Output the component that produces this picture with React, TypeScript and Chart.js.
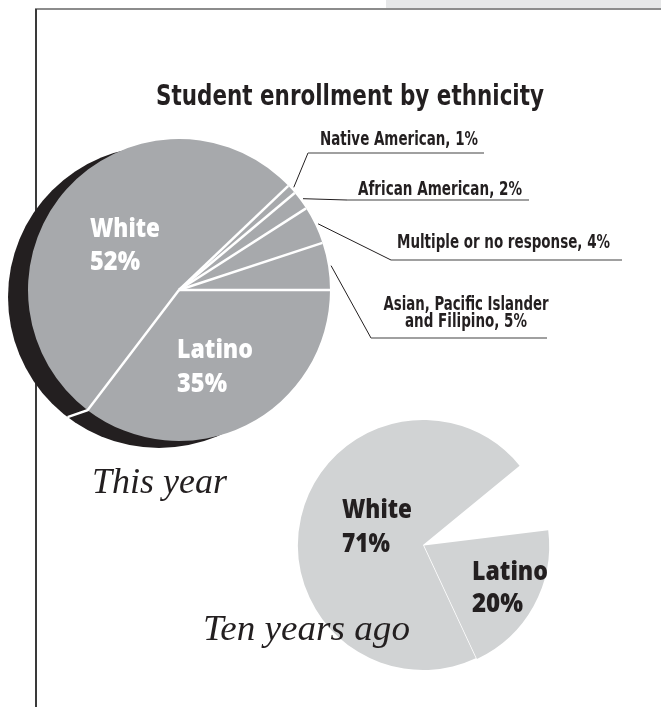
import React, { useEffect, useRef } from "react";
import { Chart, registerables } from "chart.js";

Chart.register(...registerables);

// ---------- data ----------
const TITLE = "Student enrollment by ethnicity";

const thisYearLabels = [
  "Latino",
  "White",
  "Native American",
  "African American",
  "Multiple or no response",
  "Asian, Pacific Islander\nand Filipino",
];
const thisYearValues = [35, 52, 1, 2, 4, 5];
const thisYearCaption = "This year";

const tenYearsLabels = ["Latino", "White", "Other"];
const tenYearsValues = [20, 71, 9];
const tenYearsCaption = "Ten years ago";

// ---------- styles / layout ----------
const GRAY = "#a7a9ac";
const LIGHT = "#d1d3d4";
const INK = "#231f20";
const LABEL_FONT = '"Liberation Sans Narrow", "DejaVu Sans Condensed", "Open Sans", sans-serif';
const INNER_FONT = '"Open Sans", "Noto Sans", sans-serif';
const SERIF = '"Liberation Serif", "DejaVu Serif", serif';

const SHADOW = { dx: -20, dy: 7 };

const C1 = { left: 0, top: 0, width: 661, height: 520 };
const C2 = { left: 180, top: 400, width: 400, height: 307 };

const CALLOUTS = [
  { index: 2, elbow: [308, 153], endX: 484, textX: 399, baselines: [144.5], widths: [158] },
  { index: 3, elbow: [347, 200], endX: 529, textX: 440, baselines: [194.5], widths: [164] },
  { index: 4, elbow: [391, 260], endX: 622, textX: 503.5, baselines: [248], widths: [213] },
  { index: 5, elbow: [371, 338], endX: 547, textX: 466, baselines: [310, 326.5], widths: [165, 122] },
];

const INNER1 = [
  { index: 1, x: 90, baselines: [237, 270], widths: [70, 50] },
  { index: 0, x: 177, baselines: [358, 392], widths: [76, 50] },
];
const INNER2 = [
  { index: 1, x: 342, baselines: [518, 552], widths: [70, 48] },
  { index: 0, x: 472, baselines: [580, 612], widths: [76, 51] },
];

function fitText(
  ctx: CanvasRenderingContext2D,
  text: string,
  x: number,
  y: number,
  width: number,
  align: CanvasTextAlign
) {
  const w = ctx.measureText(text).width;
  const sx = w > 0 ? width / w : 1;
  ctx.save();
  ctx.translate(x, y);
  ctx.scale(sx, 1);
  ctx.textAlign = align;
  ctx.textBaseline = "alphabetic";
  ctx.fillText(text, 0, 0);
  ctx.restore();
}

function drawInner(ctx: CanvasRenderingContext2D, items: any[], labels: string[], values: number[], color: string, off: { left: number; top: number }) {
  ctx.save();
  ctx.fillStyle = color;
  ctx.font = `800 26px ${INNER_FONT}`;
  items.forEach((it) => {
    const lines = [labels[it.index], `${values[it.index]}%`];
    lines.forEach((t, k) => fitText(ctx, t, it.x - off.left, it.baselines[k] - off.top, it.widths[k], "left"));
  });
  ctx.restore();
}

const mainPlugin = {
  id: "mainDeco",
  beforeDatasetsDraw(chart: any) {
    const ctx = chart.ctx as CanvasRenderingContext2D;
    const a = chart.getDatasetMeta(0).data[0];
    ctx.save();
    ctx.fillStyle = INK;
    ctx.beginPath();
    ctx.arc(a.x + SHADOW.dx, a.y + SHADOW.dy, a.outerRadius, 0, Math.PI * 2);
    ctx.fill();
    ctx.restore();
  },
  afterDatasetsDraw(chart: any) {
    const ctx = chart.ctx as CanvasRenderingContext2D;
    const arcs = chart.getDatasetMeta(0).data;
    ctx.save();
    ctx.strokeStyle = "#ffffff";
    ctx.lineWidth = 2.5;
    arcs.forEach((a: any) => {
      const ang = a.startAngle;
      const px = a.x + a.outerRadius * Math.cos(ang);
      const py = a.y + a.outerRadius * Math.sin(ang);
      ctx.beginPath();
      ctx.moveTo(a.x, a.y);
      ctx.lineTo(px, py);
      const dot = Math.cos(ang) * SHADOW.dx + Math.sin(ang) * SHADOW.dy;
      if (dot > 0) ctx.lineTo(px + SHADOW.dx, py + SHADOW.dy);
      ctx.stroke();
    });
    ctx.restore();

    // callouts
    ctx.save();
    CALLOUTS.forEach((c) => {
      const a = arcs[c.index];
      const mid = (a.startAngle + a.endAngle) / 2;
      const ax = a.x + (a.outerRadius + 3) * Math.cos(mid);
      const ay = a.y + (a.outerRadius + 3) * Math.sin(mid);
      ctx.strokeStyle = INK;
      ctx.lineWidth = 1;
      ctx.beginPath();
      ctx.moveTo(ax, ay);
      ctx.lineTo(c.elbow[0], c.elbow[1]);
      ctx.stroke();
      ctx.strokeStyle = "#808080";
      ctx.lineWidth = 1.6;
      ctx.beginPath();
      ctx.moveTo(c.elbow[0], c.elbow[1]);
      ctx.lineTo(c.endX, c.elbow[1]);
      ctx.stroke();
      const text = `${thisYearLabels[c.index]}, ${thisYearValues[c.index]}%`;
      const lines = text.split("\n");
      ctx.fillStyle = INK;
      ctx.font = `bold 19px ${LABEL_FONT}`;
      lines.forEach((t, k) => fitText(ctx, t, c.textX, c.baselines[k], c.widths[k], "center"));
    });
    ctx.restore();
  },
  afterDraw(chart: any) {
    const ctx = chart.ctx as CanvasRenderingContext2D;
    drawInner(ctx, INNER1, thisYearLabels, thisYearValues, "#ffffff", C1);
    ctx.save();
    ctx.fillStyle = INK;
    ctx.font = `bold 28px ${LABEL_FONT}`;
    fitText(ctx, TITLE, 350, 104.5, 388, "center");
    ctx.font = `italic 36px ${SERIF}`;
    fitText(ctx, thisYearCaption, 92, 493, 135, "left");
    ctx.restore();
  },
};

const secondPlugin = {
  id: "secondDeco",
  afterDraw(chart: any) {
    const ctx = chart.ctx as CanvasRenderingContext2D;
    drawInner(ctx, INNER2, tenYearsLabels, tenYearsValues, INK, C2);
    ctx.save();
    ctx.fillStyle = INK;
    ctx.font = `italic 35px ${SERIF}`;
    fitText(ctx, tenYearsCaption, 203 - C2.left, 640 - C2.top, 207, "left");
    ctx.restore();
  },
};

export default function App() {
  const ref1 = useRef<HTMLCanvasElement>(null);
  const ref2 = useRef<HTMLCanvasElement>(null);

  useEffect(() => {
    const common = {
      responsive: false,
      animation: false as const,
      events: [] as any[],
      plugins: { legend: { display: false }, tooltip: { enabled: false }, title: { display: false } },
    };
    const ch1 = new Chart(ref1.current!, {
      type: "pie",
      data: {
        labels: thisYearLabels,
        datasets: [
          {
            data: thisYearValues,
            backgroundColor: GRAY,
            borderWidth: 0,
            hoverBorderWidth: 0,
            offset: 0,
            hoverOffset: 0,
          },
        ],
      },
      options: {
        ...common,
        rotation: 90,
        layout: { padding: { left: 28, top: 139, right: C1.width - 28 - 302, bottom: C1.height - 139 - 302 } },
      } as any,
      plugins: [mainPlugin],
    });
    const ch2 = new Chart(ref2.current!, {
      type: "pie",
      data: {
        labels: tenYearsLabels,
        datasets: [
          {
            data: tenYearsValues,
            backgroundColor: [LIGHT, LIGHT, "rgba(0,0,0,0)"],
            borderWidth: 0,
            hoverBorderWidth: 0,
            offset: [5, 0, 0],
            hoverOffset: 0,
          },
        ],
      },
      options: {
        ...common,
        rotation: 83,
        layout: { padding: { left: 115.5, top: 17.5, right: 29.5, bottom: 34.5 } },
      } as any,
      plugins: [secondPlugin],
    });
    return () => {
      ch1.destroy();
      ch2.destroy();
    };
  }, []);

  return (
    <div style={{ position: "absolute", left: 0, top: 0, width: 661, height: 707, background: "#ffffff", overflow: "hidden" }}>
      <div style={{ position: "absolute", left: 386, top: 0, width: 275, height: 8, background: "#e6e7e8" }} />
      <div style={{ position: "absolute", left: 35, top: 8, width: 626, height: 2, background: "#8c8c8c" }} />
      <div style={{ position: "absolute", left: 35, top: 9, width: 1.5, height: 698, background: "#3a3a3a" }} />
      <canvas
        ref={ref1}
        width={C1.width}
        height={C1.height}
        style={{ position: "absolute", left: C1.left, top: C1.top, width: C1.width, height: C1.height }}
      />
      <canvas
        ref={ref2}
        width={C2.width}
        height={C2.height}
        style={{ position: "absolute", left: C2.left, top: C2.top, width: C2.width, height: C2.height }}
      />
    </div>
  );
}
